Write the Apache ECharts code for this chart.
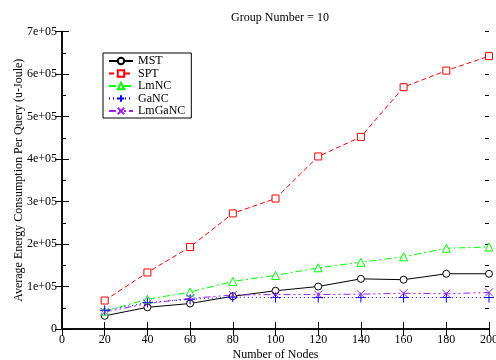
<!DOCTYPE html>
<html><head><meta charset="utf-8">
<script src="https://cdn.jsdelivr.net/npm/echarts@6/dist/echarts.min.js"></script>
<style>html,body{margin:0;padding:0;background:#fff}#c{width:496px;height:360px}</style>
</head><body><div id="c"></div>
<script>
const nodes = [20, 40, 60, 80, 100, 120, 140, 160, 180, 200];
const mst    = [31000, 51000, 60000, 77000, 90000, 100000, 118000, 116000, 130000, 130000];
const spt    = [67000, 133000, 193000, 272000, 307000, 406000, 452000, 569000, 608000, 642000];
const lmnc   = [42000, 70000, 87000, 112000, 126000, 144000, 157000, 170000, 190000, 193000];
const ganc   = [44000, 62000, 70000, 75000, 74000, 74000, 74000, 74000, 74000, 74000];
const lmganc = [40000, 60000, 72000, 80000, 81000, 81000, 82000, 84000, 83000, 86000];
const yTicks = ['0','1e+05','2e+05','3e+05','4e+05','5e+05','6e+05','7e+05'];

const font = 'Liberation Serif';
function pairs(v){ return nodes.map((x,i)=>[x,v[i]]); }
function mk(name, data, color, ltype, symbol, fill, size){
  return {
    name, type:'line', data: pairs(data), symbol, symbolSize: size,
    lineStyle:{color, width:1, type:ltype},
    itemStyle:{color: fill, borderColor: color, borderWidth:1},
    emphasis:{disabled:true}, animation:false, z: 3
  };
}
function minorY(pos){
  return {type:'value', min:0, max:700000, interval:50000, position:pos,
    axisLine:{show:false}, axisTick:{show:true, inside:true, length:4, lineStyle:{color:'#000'}},
    axisLabel:{show:false}, splitLine:{show:false}};
}
const chart = echarts.init(document.getElementById('c'));
const tickLab = {fontFamily:font, fontSize:12, color:'#000'};
chart.setOption({
  backgroundColor:'#fff',
  animation:false,
  title:{text:'Group Number = 10', left:275, top:7, textAlign:'center',
    textStyle:{fontFamily:font, fontSize:12, fontWeight:'normal', color:'#000'}},
  grid:{left:62, right:7, top:31.5, bottom:31, containLabel:false, outerBoundsMode:'none'},
  legend:{
    left:103, top:53, orient:'vertical', itemGap:0.5, itemWidth:24, itemHeight:8,
    padding:[2,6,1,5], borderColor:'#000', borderWidth:1, backgroundColor:'#fff',
    textStyle:{fontFamily:font, fontSize:12, lineHeight:12, color:'#000'},
    data:['MST','SPT','LmNC','GaNC','LmGaNC']
  },
  xAxis:[{
    type:'value', min:0, max:200, interval:20, position:'bottom',
    name:'Number of Nodes', nameLocation:'middle', nameGap:20, nameMoveOverlap:false,
    nameTextStyle:{fontFamily:font, fontSize:12, color:'#000'},
    axisLine:{lineStyle:{color:'#000', width:1.5}},
    axisTick:{inside:true, length:7, lineStyle:{color:'#000'}},
    axisLabel:Object.assign({margin:5}, tickLab),
    splitLine:{show:false}
  },{
    type:'value', min:0, max:200, interval:20, position:'top',
    axisLine:{lineStyle:{color:'#000', width:1.5}},
    axisTick:{inside:true, length:7, lineStyle:{color:'#000'}},
    axisLabel:{show:false}, splitLine:{show:false}
  }],
  yAxis:[{
    type:'value', min:0, max:700000, interval:100000, position:'left',
    name:'Average Energy Consumption Per Query (u-Joule)', nameLocation:'middle', nameGap:37, nameMoveOverlap:false,
    nameTextStyle:{fontFamily:font, fontSize:12, color:'#000'},
    axisLine:{show:true, lineStyle:{color:'#000', width:1.5}},
    axisTick:{show:true, inside:true, length:7, lineStyle:{color:'#000'}},
    axisLabel:Object.assign({margin:5, formatter:(v)=>yTicks[Math.round(v/100000)]}, tickLab),
    splitLine:{show:false}
  },{
    type:'value', min:0, max:700000, interval:100000, position:'right',
    axisLine:{show:true, lineStyle:{color:'#000', width:1.5}},
    axisTick:{show:true, inside:true, length:7, lineStyle:{color:'#000'}},
    axisLabel:{show:false}, splitLine:{show:false}
  }, minorY('left'), minorY('right')],
  series:[
    mk('MST', mst, '#000000', 'solid', 'circle', '#fff', 7),
    mk('SPT', spt, '#ff0000', [5,3], 'rect', '#fff', 7),
    mk('LmNC', lmnc, '#00ff00', [7,3,2,3], 'triangle', '#fff', 8),
    mk('GaNC', ganc, '#0000ff', [1,3], 'path://M5,0 L5,10 M0,5 L10,5', 'transparent', 10),
    mk('LmGaNC', lmganc, '#a020f0', [7,3,2,3,2,3], 'path://M0,0 L10,10 M10,0 L0,10', 'transparent', 8)
  ]
});
</script></body></html>
